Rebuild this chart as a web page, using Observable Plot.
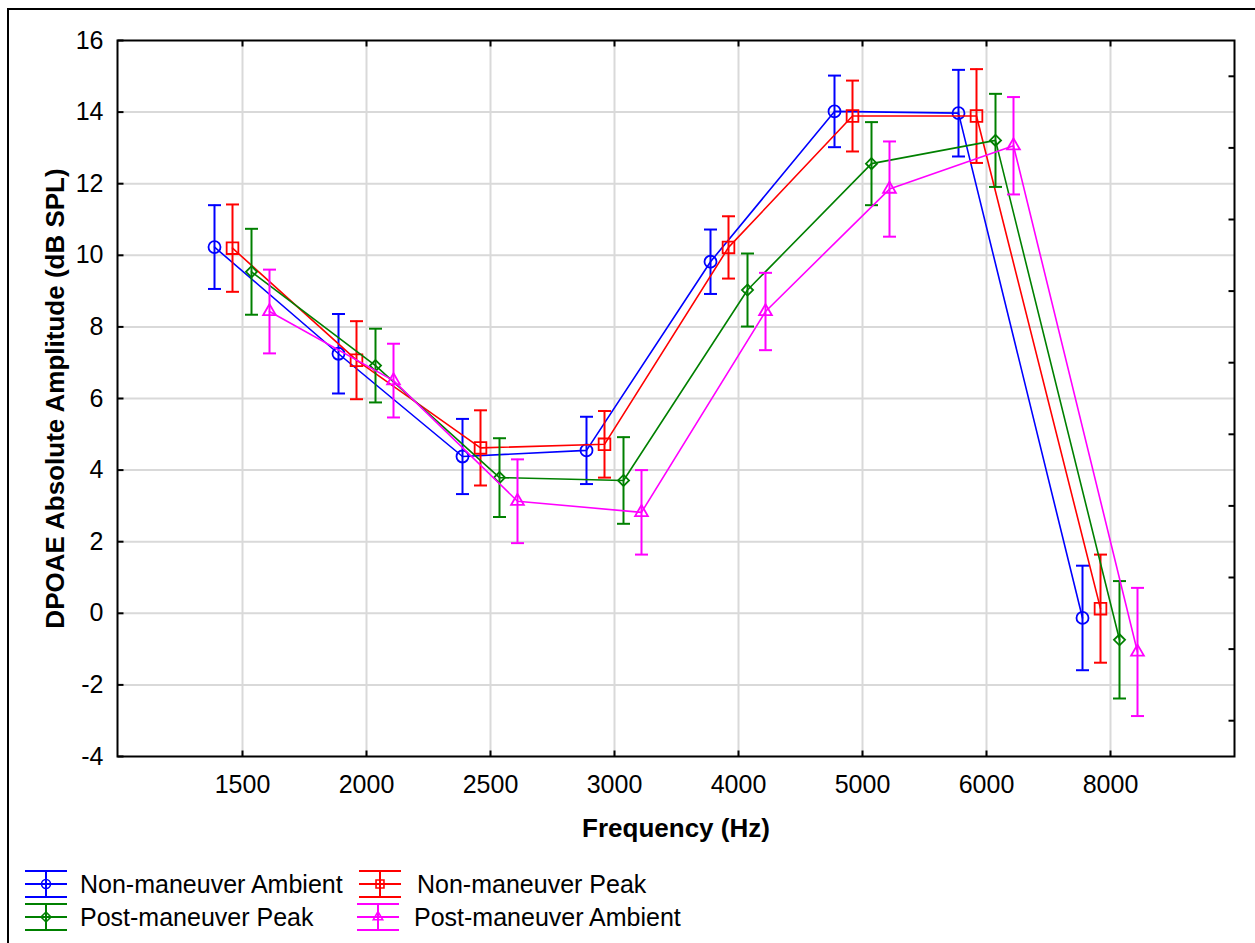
<!DOCTYPE html>
<html>
<head>
<meta charset="utf-8">
<script src="https://cdn.jsdelivr.net/npm/d3@7"></script>
<script src="https://cdn.jsdelivr.net/npm/@observablehq/plot@0.6"></script>
<style>
html, body { margin: 0; padding: 0; background: #fff; overflow: hidden; width: 1255px; height: 943px; }
#wrap { position: relative; width: 1255px; height: 943px; font-family: "Liberation Sans", Arial, sans-serif; }
#chart { position: absolute; left: 0; top: 0; }
#border { position: absolute; left: 7px; top: 8px; width: 1270px; height: 970px; border: 2px solid #000; box-sizing: border-box; pointer-events: none; }
.item { position: absolute; height: 30px; }
.item svg { position: absolute; left: 0; top: 0; overflow: visible; }
.item span { position: absolute; top: 0; line-height: 30px; font-size: 25px; white-space: nowrap; color: #000; }
</style>
</head>
<body>
<div id="wrap">
  <div id="chart"></div>
  <div id="legend"></div>
  <div id="border"></div>
</div>
<script>
// ---- data ----
const freqLabels = ["1500", "2000", "2500", "3000", "4000", "5000", "6000", "8000"];
const seriesNames = ["Non-maneuver Ambient", "Non-maneuver Peak", "Post-maneuver Peak", "Post-maneuver Ambient"];
const seriesColors = ["#0000ff", "#ff0000", "#008000", "#ff00ff"];
const seriesSymbols = ["circle", "square", "diamond2", "triangle2"];

const nonManeuverAmbientMean = [10.23, 7.25, 4.38, 4.55, 9.82, 14.02, 13.97, -0.13];
const nonManeuverAmbientErr  = [1.17, 1.11, 1.05, 0.94, 0.90, 1.00, 1.21, 1.46];
const nonManeuverPeakMean    = [10.20, 7.07, 4.62, 4.72, 10.22, 13.89, 13.89, 0.13];
const nonManeuverPeakErr     = [1.22, 1.09, 1.05, 0.93, 0.87, 0.99, 1.31, 1.51];
const postManeuverPeakMean   = [9.54, 6.92, 3.79, 3.71, 9.03, 12.56, 13.21, -0.74];
const postManeuverPeakErr    = [1.20, 1.03, 1.10, 1.21, 1.02, 1.16, 1.30, 1.64];
const postManeuverAmbientMean = [8.43, 6.50, 3.13, 2.82, 8.43, 11.85, 13.06, -1.08];
const postManeuverAmbientErr  = [1.17, 1.03, 1.17, 1.18, 1.08, 1.33, 1.36, 1.79];

const yTicks = [-4, -2, 0, 2, 4, 6, 8, 10, 12, 14, 16];
const yGrid = [-2, 0, 2, 4, 6, 8, 10, 12, 14];
const yMinorTicks = [-3, -1, 1, 3, 5, 7, 9, 11, 13, 15];

const seriesMeans = [nonManeuverAmbientMean, nonManeuverPeakMean, postManeuverPeakMean, postManeuverAmbientMean];
const seriesErrs = [nonManeuverAmbientErr, nonManeuverPeakErr, postManeuverPeakErr, postManeuverAmbientErr];
const seriesDx = [-28, -10, 9, 27];

// ---- custom symbols ----
const hLine = { draw(ctx, size) { const r = Math.sqrt(size / Math.PI); ctx.moveTo(-r, 0); ctx.lineTo(r, 0); } };
const vLine = { draw(ctx, size) { const r = Math.sqrt(size / Math.PI); ctx.moveTo(0, -r); ctx.lineTo(0, r); } };

const marks = [
  Plot.gridY(yGrid, { stroke: "#d9d9d9", strokeOpacity: 1, strokeWidth: 2 }),
  Plot.gridX(freqLabels, { stroke: "#d9d9d9", strokeOpacity: 1, strokeWidth: 2 }),
  Plot.frame({ stroke: "#000", strokeWidth: 2 }),
  Plot.dot(freqLabels, { x: d => d, frameAnchor: "bottom", dy: -3, symbol: vLine, r: 3, stroke: "#000", strokeWidth: 2 }),
  Plot.dot(freqLabels, { x: d => d, frameAnchor: "top", dy: 3, symbol: vLine, r: 3, stroke: "#000", strokeWidth: 2 }),
  Plot.dot(yTicks, { y: d => d, frameAnchor: "left", dx: 3, symbol: hLine, r: 3, stroke: "#000", strokeWidth: 2 }),
  Plot.dot(yMinorTicks, { y: d => d, frameAnchor: "right", dx: -3, symbol: hLine, r: 3, stroke: "#000", strokeWidth: 2 }),
  Plot.axisX({ tickSize: 0, tickPadding: 19, label: null, fontSize: 25 }),
  Plot.axisY({ ticks: yTicks, tickSize: 0, tickPadding: 14, label: null, fontSize: 25,
    tickFormat: d => (d < 0 ? "-" + Math.abs(d) : String(d)) }),
  Plot.text(["Frequency (Hz)"], { text: d => d, frameAnchor: "bottom", dy: 80, textAnchor: "middle",
    fontWeight: "bold", fontSize: 26 }),
  Plot.text(["DPOAE Absolute Amplitude (dB SPL)"], { text: d => d, frameAnchor: "left", dx: -62, rotate: -90,
    textAnchor: "middle", fontWeight: "bold", fontSize: 26 })
];

seriesNames.forEach((name, s) => {
  const rows = freqLabels.map((f, i) => ({
    freq: f,
    mean: seriesMeans[s][i],
    lo: seriesMeans[s][i] - seriesErrs[s][i],
    hi: seriesMeans[s][i] + seriesErrs[s][i]
  }));
  const color = seriesColors[s];
  const dx = seriesDx[s];
  marks.push(
    Plot.line(rows, { x: "freq", y: "mean", stroke: color, strokeWidth: 1.6, dx }),
    Plot.ruleX(rows, { x: "freq", y1: "lo", y2: "hi", stroke: color, strokeWidth: 2, dx }),
    Plot.dot(rows, { x: "freq", y: "lo", symbol: hLine, r: 6.5, stroke: color, strokeWidth: 2, dx }),
    Plot.dot(rows, { x: "freq", y: "hi", symbol: hLine, r: 6.5, stroke: color, strokeWidth: 2, dx }),
    Plot.dot(rows, {
      x: "freq", y: "mean", symbol: seriesSymbols[s],
      r: [6, 6.6, 5, 6.1][s], stroke: color, fill: "none", strokeWidth: 1.8, dx
    })
  );
});

const chart = Plot.plot({
  width: 1255,
  height: 860,
  marginLeft: 117,
  marginRight: 21,
  marginTop: 40,
  marginBottom: 104,
  x: { type: "point", domain: freqLabels, padding: 1 },
  y: { domain: [-4, 16] },
  style: { fontFamily: "'Liberation Sans', Arial, sans-serif", fontSize: "25px", color: "#000", background: "transparent", overflow: "visible" },
  marks
});
document.getElementById("chart").appendChild(chart);

// ---- legend (HTML below the plot) ----
const legendPos = [
  { symLeft: 25, textLeft: 80, cy: 884 },
  { symLeft: 359, textLeft: 417, cy: 884 },
  { symLeft: 25, textLeft: 80, cy: 917 },
  { symLeft: 357, textLeft: 414, cy: 917 }
];
const legend = d3.select("#legend");
seriesNames.forEach((name, s) => {
  const p = legendPos[s];
  const item = legend.append("div").attr("class", "item")
    .style("left", "0px").style("top", (p.cy - 15) + "px").style("width", "720px");
  const svg = item.append("svg").attr("width", 42).attr("height", 30)
    .style("left", p.symLeft + "px");
  const c = seriesColors[s];
  svg.append("path").attr("d", "M0,2H42M0,15H42M0,28H42M21,2V28")
    .attr("stroke", c).attr("stroke-width", 2).attr("fill", "none");
  const symType = { circle: d3.symbolCircle, square: d3.symbolSquare, diamond2: d3.symbolDiamond2, triangle2: d3.symbolTriangle2 }[seriesSymbols[s]];
  svg.append("path").attr("transform", "translate(21,15)")
    .attr("d", d3.symbol(symType, Math.PI * 20)())
    .attr("stroke", c).attr("stroke-width", 1.6).attr("fill", "none");
  item.append("span").style("left", p.textLeft + "px").text(name);
});
</script>
</body>
</html>
